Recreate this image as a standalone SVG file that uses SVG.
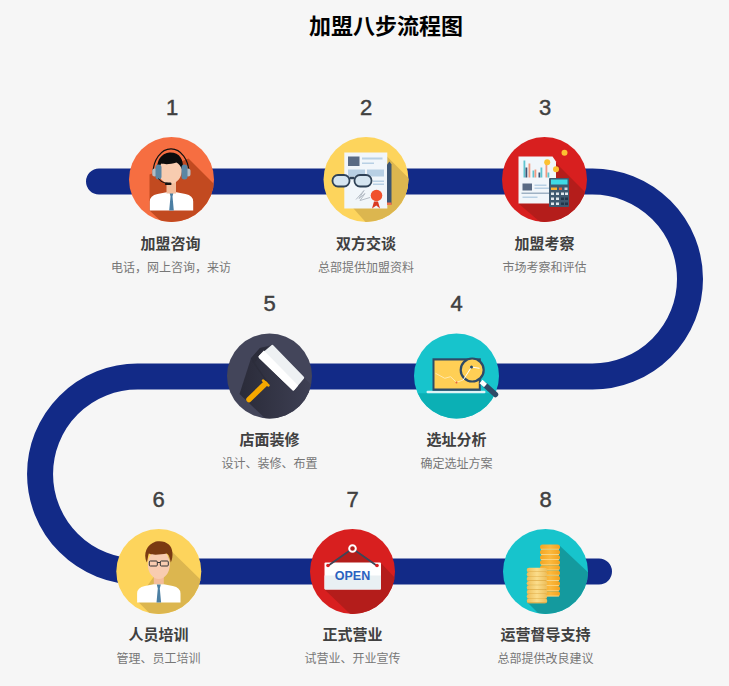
<svg xmlns="http://www.w3.org/2000/svg" width="729" height="686" viewBox="0 0 729 686">
<style>
text{font-family:"Noto Sans CJK SC","Liberation Sans",sans-serif;text-anchor:middle}
.t{font-size:22px;font-weight:700;fill:#000}
.n{font-family:"Liberation Sans",sans-serif;font-size:22px;fill:#404040;stroke:#404040;stroke-width:.45}
.l{font-size:15px;font-weight:700;fill:#404040}
.s{font-size:12px;fill:#777}
.o{fill:#f66e41}.y{fill:#fdd45c}.r{fill:#d81f1f}.c{fill:#17c4cc}.g{fill:#43455a}
.ys{fill:#dcb64f}.rs{fill:#b41d1b}.cs{fill:#149a9e}
.paper{fill:#f1f6fa}.lb{fill:#b8d0e4}.dk{fill:#3c5573}
.gl{fill:#d5e5f0;stroke:#2f4256;stroke-width:1.800}
</style>
<defs>
<clipPath id="cc"><circle r="42.5"/></clipPath>
<linearGradient id="gs" x1="0" x2="1" y1="0" y2="0"><stop offset="0" stop-color="#2a2b39"/><stop offset="1" stop-color="#43455a"/></linearGradient>
<linearGradient id="ca" x1="0" x2="1" y1="0" y2="0"><stop offset="0" stop-color="#f4a623"/><stop offset=".5" stop-color="#fbb93e"/><stop offset="1" stop-color="#f2a31f"/></linearGradient>
<linearGradient id="cb" x1="0" x2="1" y1="0" y2="0"><stop offset="0" stop-color="#edbd58"/><stop offset=".5" stop-color="#fbdd8b"/><stop offset="1" stop-color="#edbd58"/></linearGradient>
<g id="coinA"><rect x="-5.500" width="20" height="5" rx="2.500" fill="url(#ca)"/><rect x="-4.500" y="4.300" width="18" height=".9" fill="#fcd98a"/></g>
<g id="coinB"><rect x="-18.800" width="20.600" height="4.800" rx="2.400" fill="url(#cb)"/><rect x="-17.800" y="3.900" width="18.600" height=".8" fill="#d9a33a"/></g>
<g id="shirt">
<path d="M-21.700 31V22Q-21.700 16-14 14.500L-5 12.700H5L14 14.500Q21.700 16 21.700 22V31Z" fill="#fff"/>
<path d="M-2 13H2L1 17 2.300 31H-2.300L-1 17Z" fill="#4c7fa3"/>
</g>
</defs>
<rect width="729" height="686" fill="#f6f6f6"/>
<text class="t" x="386" y="34">加盟八步流程图</text>
<g id="connectors">
<path d="M99 181.500H592.500A97.500 97.500 0 0 1 592.500 376.500H137.500A97.500 97.500 0 0 0 137.500 571.500H599" fill="none" stroke="#122a87" stroke-width="26" stroke-linecap="round"/>
</g>
<g id="node1">
<text class="n" x="172" y="115">1</text>
<g transform="translate(171.500 179.500)">
<circle r="42.500" class="o"/>
<g clip-path="url(#cc)">
<path d="M17-21 60 22V60H9L-22 31V-5Z" fill="#c24a20"/>
<use href="#shirt"/>
</g>
<rect x="-5" y="2" width="9.500" height="12" fill="#f3bd9c"/>
<path d="M-18.500-6A17.500 24 0 0 1 17.500-6" fill="none" stroke="#111" stroke-width="1.100"/>
<ellipse cx="-1.500" cy="-10" rx="12" ry="14.500" fill="#f8ccb0"/>
<path d="M-14-8C-16-22-7-27-1-27 8-27 13-20 11-9 9-14 7-16 5-17-1-15-7-15-10-16-12-14-13-11-14-8Z" fill="#0c0c0c"/>
<rect x="-19.300" y="-11" width="5" height="8" rx="2.500" fill="#b3bcc4"/>
<rect x="14" y="-11" width="5" height="8" rx="2.500" fill="#b3bcc4"/>
<rect x="-16" y="-15" width="6" height="15" rx="3" fill="#5b86a3"/>
<rect x="10" y="-15" width="6" height="15" rx="3" fill="#5b86a3"/>
<path d="M-13-1Q-11 3-3 4" fill="none" stroke="#111" stroke-width="1"/>
<rect x="-6.500" y="3" width="6.500" height="2.600" rx="1.200" fill="#111"/>
</g>
<text class="l" x="170.500" y="249">加盟咨询</text>
<text class="s" x="171" y="272">电话，网上咨询，来访</text>
</g>
<g id="node2">
<text class="n" x="366" y="115">2</text>
<g transform="translate(366 179.500)">
<circle r="42.500" class="y"/>
<g clip-path="url(#cc)"><path d="M21-23 60 16V60H15L-12.700 28.700Z" class="ys"/></g>
<rect x="-21.700" y="-27" width="43" height="56" class="paper"/>
<rect x="-18" y="-23" width="11.500" height="9.500" fill="#5a6b84"/>
<rect x="-4" y="-22" width="20.500" height="2" class="lb"/><rect x="-4" y="-17" width="12" height="1.500" class="lb"/>
<rect x="-18" y="-10" width="17" height="7" class="lb"/><rect x="1" y="-10" width="17" height="7" class="lb"/>
<rect x="7" y="1" width="11" height="1.500" class="lb"/><rect x="7" y="4" width="11" height="1.500" class="lb"/>
<path d="M-10 20-2 11-7 19-1 14-6 21 4 18" fill="none" stroke="#b5bdc6" stroke-width="1"/>
<path d="M23.500-18 21-15V25H25.500V-15Z" class="dk"/><rect x="21" y="23" width="4.500" height="2.500" fill="#ef6f4b"/>
<path d="M8 22 6 29 10.300 26 14 29 12 22Z" fill="#d83a22"/>
<circle cx="10.500" cy="16" r="5.800" fill="#f0522d"/>
<rect x="-33.500" y="-4.500" width="17" height="11.500" rx="5.500" class="gl"/>
<rect x="-11.500" y="-4.500" width="17" height="11.500" rx="5.500" class="gl"/>
<path d="M-16.500-1.500H-11.500" stroke="#2f4256" stroke-width="2.500"/>
</g>
<text class="l" x="366" y="249">双方交谈</text>
<text class="s" x="366" y="272">总部提供加盟资料</text>
</g>
<g id="node3">
<text class="n" x="545" y="115">3</text>
<g transform="translate(544.500 179.500)">
<circle r="42.500" class="r"/>
<g clip-path="url(#cc)"><path d="M12-16 60 32V60H16L-26 24Z" class="rs"/></g>
<path d="M-26-23H8L11.500-18V24H-26Z" class="paper"/>
<rect x="-21" y="-19" width="1.800" height="17" fill="#5fc4cf"/><rect x="-19" y="-12" width="1.800" height="10" fill="#3c5573"/>
<rect x="-16" y="-16" width="1.800" height="14" fill="#f29a80"/>
<rect x="-12" y="-9" width="1.800" height="7" fill="#5fc4cf"/><rect x="-10" y="-10" width="1.800" height="8" fill="#f29a80"/>
<rect x="-6" y="-7" width="1.800" height="5" fill="#3c5573"/><rect x="-4" y="-12" width="1.800" height="10" fill="#5fc4cf"/>
<rect x="1" y="-18" width="1.800" height="16" fill="#f29a80"/><rect x="3" y="-7" width="1.800" height="5" fill="#5fc4cf"/>
<rect x="-22" y="4" width="9.500" height="7" fill="#5a6b84"/>
<rect x="-10" y="5" width="12" height="1.500" class="lb"/><rect x="-10" y="8" width="15" height="1.500" class="lb"/>
<rect x="-23" y="13" width="29" height="1.500" fill="#9fb2c4"/><rect x="-22" y="17" width="15" height="1.500" class="lb"/>
<circle cx="2.700" cy="-17.300" r="3" fill="#fcc131"/><circle cx="11.500" cy="-10.300" r="3" fill="#fcc131"/><circle cx="20" cy="-26.700" r="3" fill="#fcc131"/>
<rect x="4.500" y="-1.500" width="20" height="29" rx="1" fill="#3f5a70"/>
<rect x="6.500" y="0" width="16.500" height="5" fill="#3fd9e6"/>
<rect x="6.500" y="8" width="6" height="2.500" fill="#f9b233"/><rect x="14.500" y="8" width="3" height="2.500" fill="#e0603c"/><rect x="20" y="8" width="3" height="2.500" fill="#cfd8df"/>
<g fill="#dfe7ec"><rect x="6.500" y="13" width="3" height="2.500"/><rect x="11.500" y="13" width="3" height="2.500"/><rect x="16.500" y="13" width="3" height="2.500"/><rect x="20.500" y="13" width="3" height="2.500"/><rect x="6.500" y="18" width="3" height="2.500"/><rect x="11.500" y="18" width="3" height="2.500"/><rect x="6.500" y="23" width="3" height="2.500"/><rect x="11.500" y="23" width="3" height="2.500"/></g>
<g fill="#22364a"><rect x="16.500" y="18" width="3" height="2.500"/><rect x="20.500" y="18" width="3" height="2.500"/><rect x="16.500" y="23" width="3" height="2.500"/><rect x="20.500" y="23" width="3" height="2.500"/></g>
</g>
<text class="l" x="544.500" y="249">加盟考察</text>
<text class="s" x="544.500" y="272">市场考察和评估</text>
</g>
<g id="node4">
<text class="n" x="456.500" y="311">4</text>
<g transform="translate(456.500 376)">
<circle r="42.500" class="c"/>
<g clip-path="url(#cc)"><rect x="-45" y="17.300" width="90" height="30" fill="#0bb0b5"/></g>
<rect x="-30" y="14.700" width="59" height="2.500" rx="1.200" fill="#ddf3f5"/>
<rect x="-24" y="-17.700" width="48.300" height="32.500" fill="#2f4a66"/>
<rect x="-22" y="-15.500" width="44.300" height="28" fill="#ffcf55"/>
<path d="M-21-2.700-11.700 2.300-6 .7 0 6.300 6.700 4" fill="none" stroke="#ffe9ad" stroke-width="1"/>
<circle cy="6.500" r="1" fill="#e8603c"/>
<path d="M29 9.500 39 18.500" stroke="#2f4a66" stroke-width="5.500" stroke-linecap="round"/>
<path d="M24.500 5.500 29 9.500" stroke="#fff" stroke-width="4.500"/>
<circle cx="15.700" cy="-6" r="11.500" fill="#ffcf55" stroke="#2f4a66" stroke-width="2.200"/>
<path d="M6.700 4 15-9 23-7.700" fill="none" stroke="#fff" stroke-width="1"/>
<circle cx="15" cy="-9" r="1.500" fill="#2f4a66"/>
</g>
<text class="l" x="456.500" y="445">选址分析</text>
<text class="s" x="456.500" y="468">确定选址方案</text>
</g>
<g id="node5">
<text class="n" x="269.500" y="311">5</text>
<g transform="translate(269.500 376)">
<circle r="42.500" class="g"/>
<g clip-path="url(#cc)"><path d="M-18.500-17.700-9.500-28 2-31 60 27V60H14L-30 18Z" fill="url(#gs)"/></g>
<path d="M-9.500-28-18.500-17.700-15-13-11-19.300-2-29Z" fill="#2c2d3b"/>
<path d="M-17-15-1.500 7" stroke="#2c2d3b" stroke-width="1.200"/>
<path d="M2.200-31Q3-31.500 4-30.500L34.300.700Q35.200 1.700 34.300 2.700L24.800 14Q23.800 15 22.800 14L-10.500-18Q-11.500-19.300-10.500-20.300Z" fill="#eef1f3"/>
<path d="M-5.600-25.600-10.500-20.300Q-11.500-19.300-10.500-18L22.800 14Q23.800 15 24.800 14L28.700 9.500Z" fill="#fff"/>
<path d="M-4.500 8-20.500 23.500" stroke="#f5a800" stroke-width="5.500" stroke-linecap="round"/>
<path d="M-6.500 4.500-1 9.500" stroke="#f5a800" stroke-width="2.500" stroke-linecap="round"/>
</g>
<text class="l" x="269.500" y="445">店面装修</text>
<text class="s" x="269.500" y="468">设计、装修、布置</text>
</g>
<g id="node6">
<text class="n" x="158.500" y="506.500">6</text>
<g transform="translate(158.800 571.500)">
<circle r="42.500" class="y"/>
<g clip-path="url(#cc)"><path d="M13-20 60 26V60H9L-22 29Z" class="ys"/></g>
<use href="#shirt"/>
<rect x="-5" y="0" width="10" height="12.500" fill="#f3bd9c"/>
<ellipse cy="-7" rx="11" ry="14.500" fill="#f8ccb0"/>
<path d="M-12-9C-16-18-12-27-3-30 2-31 7-30 10-27 14-24 15-15 12-9 11-14 10-17 8-18 2-17-6-16-10-18-11-15-11-12-12-9Z" fill="#7a3a12"/>
<rect x="-9.500" y="-10.500" width="8" height="5" rx="1" fill="#f8ccb0" stroke="#333" stroke-width="1"/>
<rect x="1.500" y="-10.500" width="8" height="5" rx="1" fill="#f8ccb0" stroke="#333" stroke-width="1"/>
<path d="M-1.500-9H1.500" stroke="#333" stroke-width="1"/>
</g>
<text class="l" x="158.500" y="640">人员培训</text>
<text class="s" x="158.500" y="663">管理、员工培训</text>
</g>
<g id="node7">
<text class="n" x="352.500" y="506.500">7</text>
<g transform="translate(352.500 571.500)">
<circle r="42.500" class="r"/>
<g clip-path="url(#cc)"><path d="M28-9 60 25V60H16L-28 18Z" class="rs"/><path d="M0-23-24-7H24Z" class="rs"/></g>
<rect x="-28" y="-9" width="56.500" height="27" rx="1" fill="#fff"/>
<path d="M-28 4H28.500V17Q28.500 18 27.500 18H-27Q-28 18-28 17Z" fill="#e9f0f3"/>
<path d="M-24-6 0-23 24-6" fill="none" stroke="#3c4658" stroke-width="1.800"/>
<circle cx="-24.500" cy="-6" r="1.800" fill="#d81f1f"/><circle cx="24.500" cy="-6" r="1.800" fill="#d81f1f"/>
<circle cy="-23" r="3.300" fill="#b41d1b" stroke="#fff" stroke-width="2"/>
<text x="0" y="8.500" style="font-family:'Liberation Sans',sans-serif;font-size:12.500px;font-weight:700;fill:#2a62c0">OPEN</text>
</g>
<text class="l" x="352.500" y="640">正式营业</text>
<text class="s" x="352.500" y="663">试营业、开业宣传</text>
</g>
<g id="node8">
<text class="n" x="545.500" y="506.500">8</text>
<g transform="translate(545.500 571.500)">
<circle r="42.500" class="c"/>
<g clip-path="url(#cc)"><path d="M14-26 60 17V60H11L-19 30Z" class="cs"/></g>
<use href="#coinA" y="-27"/><use href="#coinA" y="-21.800"/><use href="#coinA" y="-16.600"/><use href="#coinA" y="-11.400"/><use href="#coinA" y="-6.200"/><use href="#coinA" y="-1"/><use href="#coinA" y="4.200"/><use href="#coinA" y="9.400"/><use href="#coinA" y="14.600"/><use href="#coinA" y="19.800"/>
<use href="#coinB" y="-3.800"/><use href="#coinB" y=".6"/><use href="#coinB" y="5"/><use href="#coinB" y="9.400"/><use href="#coinB" y="13.800"/><use href="#coinB" y="18.200"/><use href="#coinB" y="22.600"/><use href="#coinB" y="27"/>
</g>
<text class="l" x="545.500" y="640">运营督导支持</text>
<text class="s" x="545.500" y="663">总部提供改良建议</text>
</g>
</svg>
